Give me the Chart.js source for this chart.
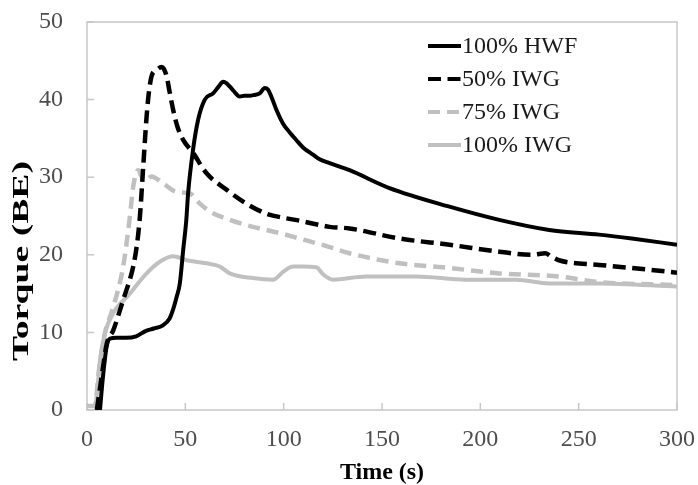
<!DOCTYPE html>
<html>
<head>
<meta charset="utf-8">
<script src="https://cdn.jsdelivr.net/npm/chart.js@4.4.0/dist/chart.umd.min.js"></script>
<style>
  html, body { margin: 0; padding: 0; background: #fff; }
</style>
</head>
<body>
<canvas id="torqueChart" width="698" height="485"></canvas>
<script>
// Torque curves (time in s, torque in BE)
const hwfTime = [6.6, 8, 10, 11.7, 15, 20, 25, 30, 34, 38.6, 42, 43.7, 45.5, 47.2, 48.9, 50.5, 51.4, 53.9, 56.5, 59.9, 64.1, 67, 69.2, 71, 74.3, 77.7, 80, 82.7, 85, 87.8, 90.4, 92, 93.7, 96.3, 99.7, 103, 106.4, 110, 114.9, 118.3, 123.4, 133.5, 153.8, 184.3, 209.6, 235, 260.4, 277, 300];
const hwfTorque = [0, 4, 8.2, 9.2, 9.3, 9.3, 9.5, 10.2, 10.5, 10.9, 11.8, 12.9, 14.5, 16.3, 20.6, 24.5, 27.9, 33.5, 37.4, 40, 40.8, 41.7, 42.3, 42.1, 41.2, 40.4, 40.5, 40.5, 40.6, 40.8, 41.5, 41.3, 40.4, 38.7, 36.9, 35.8, 34.8, 33.8, 32.9, 32.3, 31.8, 30.9, 28.6, 26.2, 24.5, 23.2, 22.6, 22.1, 21.3];

const iwg50Time = [5, 8.2, 10, 13.4, 18.4, 23.5, 25.5, 26.9, 28.6, 30.3, 31.5, 32.8, 35.4, 37.9, 39, 40.5, 42, 43.8, 46, 48.9, 54, 60.8, 70.9, 81, 91.2, 101.4, 108, 123.4, 133.5, 158.9, 184.3, 209.6, 226.6, 233, 236, 240, 260.4, 277, 300];
const iwg50Torque = [0, 5.6, 8.5, 10.3, 14.2, 18.5, 21.5, 24.9, 31.4, 37.8, 41, 43, 43.8, 44.2, 44, 43, 41, 38.7, 36.5, 34.8, 33.1, 30.5, 28.4, 26.6, 25.3, 24.7, 24.4, 23.6, 23.4, 22.1, 21.3, 20.4, 20.0, 20.2, 19.8, 19.3, 18.7, 18.3, 17.7];

const iwg75Time = [0, 4, 6, 9.1, 13.4, 18.4, 21.8, 23.5, 26, 27.5, 29.4, 32.8, 38.7, 45.5, 52.3, 57.4, 62.4, 72.6, 84.4, 98, 108, 123.4, 133.5, 158.9, 184.3, 209.6, 240, 260, 300];
const iwg75Torque = [0.5, 0.5, 5, 9.9, 13.3, 18.5, 24.9, 28.8, 30.9, 30.2, 29.6, 30.1, 29.2, 28.1, 27.9, 26.6, 25.6, 24.5, 23.6, 22.8, 22.1, 21.0, 20.2, 18.9, 18.3, 17.6, 17.2, 16.5, 16.1];

const iwg100Time = [0, 4, 5, 6.6, 9.1, 13.4, 21.8, 30.3, 37, 43.8, 50.6, 60.8, 67.5, 72.6, 84.4, 94.6, 99.7, 104.7, 110, 116.6, 120, 125, 142, 167.4, 192.7, 218, 235, 260, 300];
const iwg100Torque = [0.5, 0.5, 2, 6.4, 9.9, 12.5, 15, 17.6, 19.1, 19.8, 19.3, 18.9, 18.5, 17.6, 17, 16.8, 17.8, 18.5, 18.5, 18.4, 17.5, 16.8, 17.2, 17.2, 16.8, 16.8, 16.3, 16.3, 15.9];

const seriesLabels = ['100% HWF', '50% IWG', '75% IWG', '100% IWG'];
const yTitleText = 'Torque (BE)';

const serif = '"Liberation Serif", "Times New Roman", serif';
const black = '#000000';
const grey = '#c0c0c0';

function toPoints(times, values) {
    return times.map((t, i) => ({ x: t, y: values[i] }));
}

// frame round the plot area plus short inward tick marks
const framePlugin = {
    id: 'frame',
    beforeDatasetsDraw(chart) {
        const { ctx, chartArea: a, scales: { x, y } } = chart;
        ctx.save();
        ctx.strokeStyle = '#c8c8c8';
        ctx.lineWidth = 1.5;
        ctx.strokeRect(a.left, a.top, a.right - a.left, a.bottom - a.top);
        ctx.beginPath();
        x.ticks.forEach(t => {
            const px = x.getPixelForValue(t.value);
            ctx.moveTo(px, a.bottom);
            ctx.lineTo(px, a.bottom - 7);
        });
        y.ticks.forEach(t => {
            const py = y.getPixelForValue(t.value);
            ctx.moveTo(a.left, py);
            ctx.lineTo(a.left + 7, py);
        });
        ctx.stroke();
        ctx.restore();
    }
};

// y title in the original is drawn long and low, so draw it by hand
const yTitlePlugin = {
    id: 'yTitle',
    afterDraw(chart) {
        const { ctx } = chart;
        ctx.save();
        ctx.font = 'bold 24px ' + serif;
        const w = ctx.measureText(yTitleText).width;
        ctx.translate(22, 261);
        ctx.rotate(-Math.PI / 2);
        ctx.scale(200 / w, 1);
        ctx.fillStyle = '#000';
        ctx.textAlign = 'center';
        ctx.textBaseline = 'middle';
        ctx.fillText(yTitleText, 0, 0);
        ctx.restore();
    }
};

// legend drawn inside the plot, top right
const legendPlugin = {
    id: 'insideLegend',
    afterDraw(chart) {
        const { ctx, chartArea: a } = chart;
        const x0 = a.right - 249;
        const y0 = a.top + 24;
        chart.data.datasets.forEach((ds, i) => {
            const yy = y0 + i * 33;
            ctx.save();
            ctx.strokeStyle = ds.borderColor;
            ctx.lineWidth = 4;
            ctx.setLineDash(ds.borderDash || []);
            ctx.beginPath();
            ctx.moveTo(x0, yy);
            ctx.lineTo(x0 + 33, yy);
            ctx.stroke();
            ctx.setLineDash([]);
            ctx.fillStyle = '#1a1a1a';
            ctx.font = '24px ' + serif;
            ctx.textBaseline = 'middle';
            ctx.fillText(ds.label, x0 + 34, yy + 1);
            ctx.restore();
        });
    }
};

const ctx = document.getElementById('torqueChart').getContext('2d');

new Chart(ctx, {
    type: 'line',
    data: {
        datasets: [
            { label: seriesLabels[0], data: toPoints(hwfTime, hwfTorque), borderColor: black, borderWidth: 4 },
            { label: seriesLabels[1], data: toPoints(iwg50Time, iwg50Torque), borderColor: black, borderWidth: 4.5, borderDash: [13, 6.5] },
            { label: seriesLabels[2], data: toPoints(iwg75Time, iwg75Torque), borderColor: grey, borderWidth: 4.5, borderDash: [12, 7] },
            { label: seriesLabels[3], data: toPoints(iwg100Time, iwg100Torque), borderColor: grey, borderWidth: 4 }
        ]
    },
    options: {
        responsive: false,
        animation: false,
        devicePixelRatio: 1,
        layout: { padding: { top: 22, right: 21, left: 0, bottom: 0 } },
        elements: {
            point: { radius: 0 },
            line: { cubicInterpolationMode: 'monotone', fill: false }
        },
        plugins: {
            legend: { display: false },
            tooltip: { enabled: false }
        },
        scales: {
            x: {
                type: 'linear',
                min: 0,
                max: 300,
                grid: { display: false, drawTicks: false },
                border: { display: false },
                ticks: { stepSize: 50, padding: 15, color: '#4d4d4d', font: { family: serif, size: 24 } },
                title: {
                    display: true,
                    text: 'Time (s)',
                    color: '#000',
                    padding: { top: 0, bottom: 0 },
                    font: { family: serif, size: 24, weight: 'bold', lineHeight: 1 }
                },
                afterFit: s => {
                    s.height = 75;
                    s.paddingLeft = 0;
                    s.paddingRight = 0;
                }
            },
            y: {
                min: 0,
                max: 50,
                grid: { display: false, drawTicks: false },
                border: { display: false },
                ticks: { stepSize: 10, padding: 24, color: '#4d4d4d', font: { family: serif, size: 24 } },
                title: { display: false },
                afterFit: s => {
                    s.width = 87;
                    s.paddingTop = 0;
                    s.paddingBottom = 0;
                }
            }
        }
    },
    plugins: [framePlugin, yTitlePlugin, legendPlugin]
});
</script>
</body>
</html>
